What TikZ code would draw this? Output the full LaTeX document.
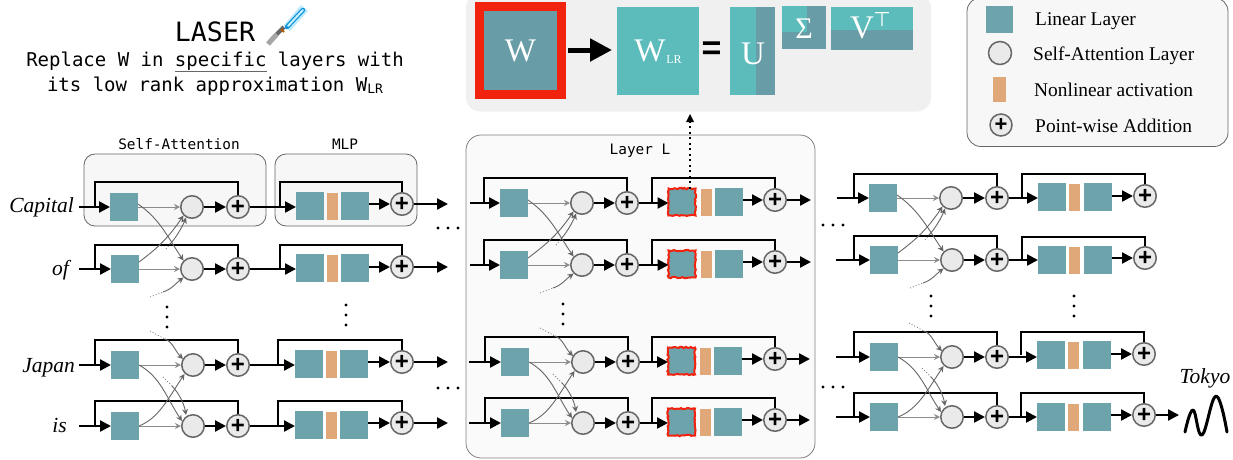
\documentclass[tikz,border=0pt]{standalone}
\usepackage{fontspec}
\setmainfont{Liberation Serif}
\newfontfamily\monof{DejaVu Sans Mono}
\newfontfamily\sansf{Liberation Sans}
\newfontfamily\dejaf{DejaVu Sans}
\usetikzlibrary{arrows.meta,calc,decorations.pathmorphing}
\definecolor{tealbox}{HTML}{6DA3AA}
\definecolor{tealdark}{HTML}{689CA6}
\definecolor{teallight}{HTML}{5CBCBC}
\definecolor{orangebox}{HTML}{E0A878}
\definecolor{circfill}{HTML}{EAEAEA}
\definecolor{edgegray}{HTML}{666666}
\definecolor{redbox}{HTML}{F2230E}
\newcommand{\fsz}[1]{\fontsize{#1}{#1}\selectfont}
\tikzset{
  linbox/.style={draw=none,fill=tealbox,minimum size=28pt,inner sep=0pt,outer sep=0pt},
  redlin/.style={linbox,draw=redbox,line width=2pt,minimum size=27pt,decorate,decoration={random steps,segment length=1.8pt,amplitude=.7pt}},
  actbox/.style={fill=orangebox,minimum width=11pt,minimum height=27pt,inner sep=0pt,outer sep=0pt},
  attn/.style={circle,draw=edgegray,line width=1.5pt,fill=circfill,minimum size=22.5pt,inner sep=0pt},
  addn/.style={attn,font=\sansf\bfseries\fsz{24}},
  thickarr/.style={draw=black,line width=2.3pt,-{Triangle[length=11pt,width=11pt]}},
  skipline/.style={draw=black,line width=2.2pt},
  thinarr/.style={draw=edgegray,line width=.9pt,-{Stealth[length=6pt,width=6pt]}},
  straightarr/.style={draw=gray!90,line width=1pt,-{Stealth[length=6pt,width=6pt]}},
  dotline/.style={draw=gray,line width=.8pt,dash pattern=on 1pt off 2pt},
  panelbox/.style={draw=edgegray,line width=.8pt,rounded corners=11pt,fill=black!3},
  monolabel/.style={font=\monof\fsz{14.4},inner sep=0pt},
  dotnode/.style={circle,fill=black,minimum size=3.2pt,inner sep=0pt},
  wordlabel/.style={font=\itshape\fsz{21.5},inner sep=0pt,anchor=east},
  legendtext/.style={font=\fsz{19.4},inner sep=0pt,anchor=west},
  whitetext/.style={text=white,inner sep=0pt},
}
% name, input x, skip x, box x, y, circle x, plus x, skip y
\newcommand{\SArow}[8]{
  \coordinate (#1i) at (#2,#5);
  \coordinate (#1sb) at (#3,#5);
  \coordinate (#1st) at (#3,#8);
  \node[linbox] (#1b) at (#4,#5) {};
  \node[attn] (#1c) at (#6,#5) {};
  \node[addn] (#1p) at (#7,#5) {+};
  \draw[skipline] (#1sb) -- (#1st) -| (#1p.north);
  \draw[thickarr] (#1i) -- (#1b.west);
  \draw[thickarr] (#1c.east) -- (#1p.west);
  \draw[straightarr] (#1b.east) -- (#1c.west);
}
% name, box style, skip x, box1 x, y, orange x, box2 x, plus x, plus y, skip y
\newcommand{\MLProw}[9]{\def\mlpname{#1}\def\mlpsty{#2}\def\mlpskx{#3}\def\mlpbx{#4}\def\mlpy{#5}\def\mlpox{#6}\def\mlpbb{#7}\def\mlppx{#8}\def\mlppy{#9}\MLPfinish}
\newcommand{\MLPfinish}[1]{
  \coordinate (\mlpname sb) at (\mlpskx,\mlpy);
  \coordinate (\mlpname st) at (\mlpskx,#1);
  \node[\mlpsty] (\mlpname m) at (\mlpbx,\mlpy) {};
  \node[actbox] (\mlpname o) at (\mlpox,\mlpy) {};
  \node[linbox] (\mlpname n) at (\mlpbb,\mlpy) {};
  \node[addn] (\mlpname q) at (\mlppx,\mlppy) {+};
  \draw[skipline] (\mlpname sb) -- (\mlpname st) -| (\mlpname q.north);
  \draw[thickarr] (\mlpname p.east) -- (\mlpname p.east -| \mlpname m.west);
  \draw[thickarr] (\mlpname q.west -| \mlpname n.east) -- (\mlpname q.west);
}
% upper pair of rows
\newcommand{\CrossTop}[2]{
  \coordinate (#1d0) at ($(#1c)+(-26,42)$);
  \coordinate (#1d1) at ($(#1c)+(-22,37)$);
  \coordinate (#2d0) at ($(#2c)+(-42,28)$);
  \coordinate (#2d1) at ($(#2c)+(-29,23)$);
  \draw[thinarr] ([yshift=3pt]#1b.east) .. controls +(22,15) and +(-15,-22) .. (#2c.north west);
  \draw[thinarr] ([yshift=7pt]#2b.east) .. controls +(20,-15) and +(-15,22) .. (#1c.south west);
  \draw[dotline] (#1d0) -- (#1d1);
  \draw[thinarr] (#1d1) .. controls +(6,-6) and +(-3,8) .. ($(#1c)+(-6,10.5)$);
  \draw[dotline] (#2d0) -- (#2d1);
  \draw[thinarr] (#2d1) .. controls +(9,-3) and +(-8,6) .. ($(#2c)+(-8.5,8.5)$);
}
% lower pair of rows
\newcommand{\CrossBot}[2]{
  \coordinate (#1d0) at ($(#1c)+(-43,-34)$);
  \coordinate (#1d1) at ($(#1c)+(-28,-26)$);
  \coordinate (#2d0) at ($(#2c)+(-30,-49)$);
  \coordinate (#2d1) at ($(#2c)+(-21,-40)$);
  \draw[thinarr] (#1b.east) .. controls +(22,12) and +(-15,-22) .. ($(#2c)+(-11,-5)$);
  \draw[thinarr] (#2b.east) .. controls +(20,-8) and +(-16,24) .. ($(#1c)+(-8.5,9)$);
  \draw[dotline] (#1d0) -- (#1d1);
  \draw[thinarr] (#1d1) .. controls +(8,3) and +(-8,-8) .. ($(#1c)+(-10,-6)$);
  \draw[dotline] (#2d0) -- (#2d1);
  \draw[thinarr] (#2d1) .. controls +(6,6) and +(-2,-12) .. ($(#2c)+(-7,-11)$);
}
\newcommand{\Vdots}[3]{
  \node[dotnode] (#1a) at (#2,#3) {};
  \node[dotnode] (#1b) at (#2,#3+10) {};
  \node[dotnode] (#1c) at (#2,#3+20) {};
}
\newcommand{\Hdots}[3]{
  \node[dotnode] (#1a) at (#2,#3) {};
  \node[dotnode] (#1b) at (#2+10,#3) {};
  \node[dotnode] (#1c) at (#2+20,#3) {};
}
\begin{document}
\begin{tikzpicture}[x=1pt,y=-1pt]
\useasboundingbox (0,0) rectangle (1233,459);
\pgfmathsetseed{7}
% containers
\node[panelbox,minimum width=182pt,minimum height=72pt,inner sep=0pt] (sabox) at (175,190) {};
\node[panelbox,minimum width=142pt,minimum height=72pt,inner sep=0pt] (mlpbox) at (346,190) {};
\node[monolabel] (salab) at (179,144) {Self-Attention};
\node[monolabel] (mlplab) at (345,144) {MLP};
\node[panelbox,rounded corners=15pt,fill=black!2,draw=gray,minimum width=349pt,minimum height=323pt,inner sep=0pt] (layerbox) at (640.5,296.5) {};
\node[monolabel] (layerlab) at (640,151) {Layer L};
% top panel
\node[fill=black!6,rounded corners=14pt,minimum width=465pt,minimum height=118pt,inner sep=0pt] (top) at (698.5,52.5) {};
\node[fill=redbox,minimum width=91pt,minimum height=97pt,inner sep=0pt,outer sep=0pt] (wred) at (520.5,50.5) {};
\node[fill=tealdark,minimum width=73pt,minimum height=79pt,inner sep=0pt,outer sep=0pt,whitetext,font=\fsz{33}] (w) at (520.5,50.5) {W};
\node[fill=teallight,minimum width=82pt,minimum height=88pt,inner sep=0pt,outer sep=0pt] (wlr) at (658,51) {};
\node[whitetext,font=\fsz{33}] (wlrw) at (650,51) {W};
\node[whitetext,font=\fsz{12}] (wlrs) at (674,60) {LR};
\coordinate (arrs) at (568,50);
\coordinate (arre) at (612,50);
\draw[draw=black,line width=5pt,-{Triangle[length=22pt,width=22pt]}] (arrs) -- (arre);
\node[font=\sansf\bfseries\fsz{34},inner sep=0pt] (eq) at (711.5,51) {=};
\node[fill=tealdark,minimum width=45pt,minimum height=88pt,inner sep=0pt,outer sep=0pt] (u) at (752.5,51) {};
\fill[teallight] (u.north west) rectangle (756,95);
\node[whitetext,font=\fsz{33}] (ut) at (753,54) {U};
\node[fill=tealdark,minimum width=44pt,minimum height=43pt,inner sep=0pt,outer sep=0pt] (sig) at (804,27.5) {};
\fill[teallight] (sig.north west) rectangle (807,32);
\node[whitetext,font=\fsz{30}] (sigt) at (804,29) {Σ};
\node[fill=tealdark,minimum width=82pt,minimum height=43pt,inner sep=0pt,outer sep=0pt] (v) at (872,28.5) {};
\fill[teallight] (v.north west) rectangle (913,30);
\node[whitetext,font=\fsz{33}] (vt) at (862,28) {V};
\node[whitetext,font=\dejaf\fsz{20}] (vs) at (882,19) {⊤};
% legend
\node[panelbox,rounded corners=14pt,fill=black!3,minimum width=261pt,minimum height=149pt,inner sep=0pt] (legend) at (1097.5,72) {};
\node[linbox,minimum size=27pt] (l1) at (999.5,19.5) {};
\node[legendtext] (l1t) at (1035,21) {Linear Layer};
\node[attn,minimum size=23pt] (l2) at (1000,53) {};
\node[legendtext] (l2t) at (1033,56) {Self-Attention Layer};
\node[actbox,minimum width=13pt,minimum height=25pt] (l3) at (999.5,89.5) {};
\node[legendtext] (l3t) at (1034,90) {Nonlinear activation};
\node[attn,minimum size=22pt,font=\sansf\bfseries\fsz{22}] (l4) at (1001,125) {+};
\node[legendtext] (l4t) at (1035,125.5) {Point-wise Addition};
% title
\node[font=\monof\fsz{26.6},inner sep=0pt] (title) at (215,32) {LASER};
\fill[cyan!50!white,opacity=.5] (284,25) -- (301,5) -- (308,11) -- (290,31) -- cycle;
\draw[cyan!80!blue,line width=4.5pt,line cap=round] (287,27) -- (303,10);
\draw[cyan!20!white,line width=2pt,line cap=round] (288,26) -- (303,10);
\draw[gray!70,line width=5pt] (268,44) -- (277,34);
\draw[black!60,line width=4pt] (277,34) -- (284,27);
\draw[orange!70!black,line width=2pt] (281,29) -- (284,32);
\node[font=\monof\fsz{19},inner sep=0pt] (t1) at (215,61) {Replace W in specific layers with};
\node[font=\monof\fsz{19},inner sep=0pt] (t2) at (215,86) {its low rank approximation W{\fsz{13}\raisebox{-2pt}{LR}}};
\draw[draw=edgegray,line width=1.6pt] (175,71.5) -- (267,71.5);
% column 1
\SArow{a}{79}{95}{124}{207}{192}{238}{182}
\SArow{e}{79}{95}{125}{269}{192}{238}{245}
\SArow{f}{79}{95}{125}{365}{193}{238}{340}
\SArow{g}{79}{95}{125}{426}{193}{238}{401}
\CrossTop{a}{e}\CrossBot{f}{g}
\MLProw{a}{linbox}{280}{310}{206}{332.5}{355}{402}{204}{182}
\MLProw{e}{linbox}{280}{310}{268}{332.5}{355}{402}{267}{245}
\MLProw{f}{linbox}{278}{309}{364}{331.5}{354}{402}{362}{340}
\MLProw{g}{linbox}{278}{309}{425}{331.5}{354}{402}{423}{401}
\coordinate (ao) at (448,204);\coordinate (eo) at (448,267);\coordinate (fo) at (448,362);\coordinate (go) at (448,423);
\draw[thickarr] (aq.east) -- (ao);\draw[thickarr] (eq.east) -- (eo);\draw[thickarr] (fq.east) -- (fo);\draw[thickarr] (gq.east) -- (go);
\node[wordlabel] (wa) at (74,207.5) {Capital};
\node[wordlabel] (we) at (69,270.5) {of};
\node[wordlabel] (wf) at (75,367.5) {Japan};
\node[wordlabel] (wg) at (67,425.5) {is};
\Vdots{va}{167}{307}\Vdots{vb}{346}{305}
\Hdots{ha}{438}{228}\Hdots{hb}{438}{388}
% column 2
\SArow{h}{470}{484}{514}{203}{582}{627}{178}
\SArow{j}{470}{484}{514}{265}{582}{627}{240}
\SArow{k}{469}{485}{515}{362}{583}{628}{337}
\SArow{l}{469}{485}{515}{423}{583}{628}{398}
\CrossTop{h}{j}\CrossBot{k}{l}
\MLProw{h}{redlin}{652}{682}{202}{706.5}{729}{775}{200}{178}
\MLProw{j}{redlin}{652}{682}{264}{706.5}{729}{775}{262}{240}
\MLProw{k}{redlin}{652}{681.5}{361}{705.5}{728}{775}{359}{337}
\MLProw{l}{redlin}{652}{681.5}{422}{705.5}{728}{775}{420}{398}
\coordinate (ho) at (811,200);\coordinate (jo) at (811,262);\coordinate (ko) at (810,359);\coordinate (lo) at (810,420);
\draw[thickarr] (hq.east) -- (ho);\draw[thickarr] (jq.east) -- (jo);\draw[thickarr] (kq.east) -- (ko);\draw[thickarr] (lq.east) -- (lo);
\Vdots{vc}{563}{304}
\Hdots{hc}{823}{225}\Hdots{hd}{823}{387}
\coordinate (dtop) at (690,114);
\draw[draw=black,line width=2pt,dash pattern=on 2pt off 3.5pt] (hm.north -| dtop) -- ([yshift=-4pt]dtop);
\fill (dtop) -- ++(-4,8) -- ++(8,0) -- cycle;
% column 3
\SArow{p}{837}{854}{883}{198}{951}{997}{174}
\SArow{r}{836}{854}{884}{260}{952}{997}{236}
\SArow{s}{836}{854}{884}{357}{952}{997}{332}
\SArow{u}{836}{854}{884}{417}{952}{997}{393}
\CrossTop{p}{r}\CrossBot{s}{u}
\MLProw{p}{linbox}{1022}{1052}{197}{1074.5}{1098}{1145}{196}{174}
\MLProw{r}{linbox}{1022}{1052}{260}{1074.5}{1098}{1145}{258}{237}
\MLProw{s}{linbox}{1021}{1051}{355}{1073.5}{1097}{1144}{354}{332}
\MLProw{u}{linbox}{1021}{1051}{417}{1073.5}{1097}{1144}{415}{393}
\coordinate (uo) at (1179,415);
\draw[thickarr] (uq.east) -- (uo);
\Vdots{vd}{931}{296}\Vdots{ve}{1074}{296}
\node[wordlabel,anchor=center] (tk) at (1205,378) {Tokyo};
\draw[line width=3pt,line cap=round,line join=round] plot[smooth,tension=.7] coordinates {(1185,432) (1193,410) (1202,435) (1216,396) (1227,432)};
\end{tikzpicture}
\end{document}
